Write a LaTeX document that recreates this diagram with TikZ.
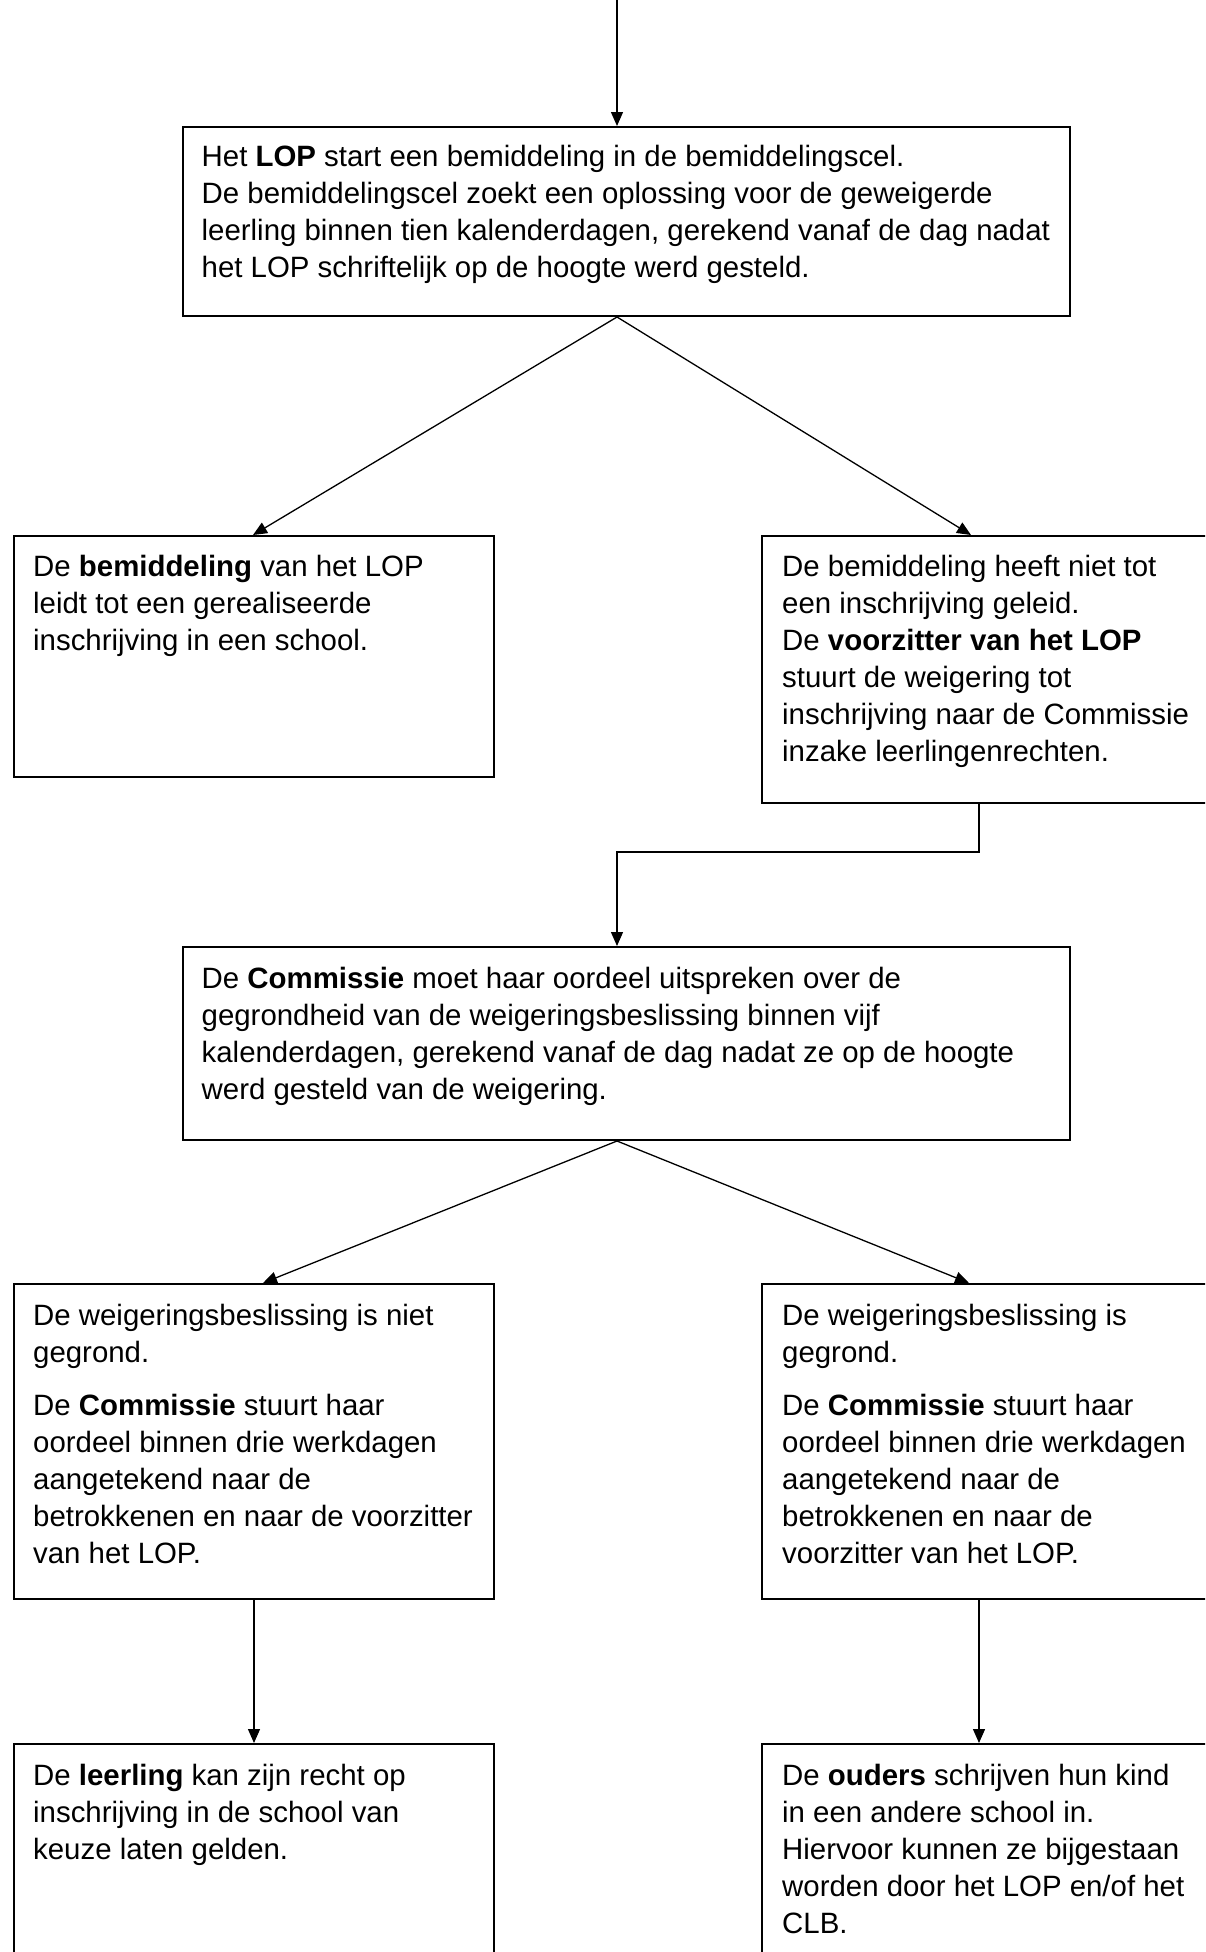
\documentclass[tikz,border=0pt]{standalone}
\usepackage{fontspec}
\setmainfont{Liberation Sans}
\usetikzlibrary{arrows.meta,calc}
\tikzset{
  box/.style={draw=black, line width=2pt, rectangle, inner sep=0pt, anchor=north west},
  txt/.style={inner sep=0pt, anchor=base west, align=left, font=\fontsize{29.4}{37}\selectfont},
  conn/.style={draw=black, line width=1.3pt},
  arr/.style={conn, -{Triangle[length=14pt,width=12pt]}}
}
\begin{document}
\begin{tikzpicture}[x=1pt,y=-1pt]
\useasboundingbox (0,0) rectangle (1205,1952);
\clip (0,0) rectangle (1205,1952);
% boxes
\node[box, minimum width=887pt, minimum height=189pt] (b1) at (182,126) {};
\node[box, minimum width=480pt, minimum height=241pt] (b2) at (13,535) {};
\node[box, minimum width=454pt, minimum height=267pt] (b3) at (761,535) {};
\node[box, minimum width=887pt, minimum height=193pt] (b4) at (182,946) {};
\node[box, minimum width=480pt, minimum height=315pt] (b5) at (13,1283) {};
\node[box, minimum width=454pt, minimum height=315pt] (b6) at (761,1283) {};
\node[box, minimum width=480pt, minimum height=227pt] (b7) at (13,1743) {};
\node[box, minimum width=454pt, minimum height=227pt] (b8) at (761,1743) {};
% texts (anchored at the baseline of their last line)
\node[txt] (t1) at (201.5,277) {Het \textbf{LOP} start een bemiddeling in de bemiddelingscel.\\
De bemiddelingscel zoekt een oplossing voor de geweigerde\\
leerling binnen tien kalenderdagen, gerekend vanaf de dag nadat\\
het LOP schriftelijk op de hoogte werd gesteld.};
\node[txt] (t2) at (33,650) {De \textbf{bemiddeling} van het LOP\\
leidt tot een gerealiseerde\\
inschrijving in een school.};
\node[txt] (t3) at (782,761) {De bemiddeling heeft niet tot\\
een inschrijving geleid.\\
De \textbf{voorzitter van het LOP}\\
stuurt de weigering tot\\
inschrijving naar de Commissie\\
inzake leerlingenrechten.};
\node[txt] (t4) at (201.5,1099) {De \textbf{Commissie} moet haar oordeel uitspreken over de\\
gegrondheid van de weigeringsbeslissing binnen vijf\\
kalenderdagen, gerekend vanaf de dag nadat ze op de hoogte\\
werd gesteld van de weigering.};
\node[txt] (t5) at (33,1563) {De weigeringsbeslissing is niet\\
gegrond.\\[16pt]
De \textbf{Commissie} stuurt haar\\
oordeel binnen drie werkdagen\\
aangetekend naar de\\
betrokkenen en naar de voorzitter\\
van het LOP.};
\node[txt] (t6) at (782,1563) {De weigeringsbeslissing is\\
gegrond.\\[16pt]
De \textbf{Commissie} stuurt haar\\
oordeel binnen drie werkdagen\\
aangetekend naar de\\
betrokkenen en naar de\\
voorzitter van het LOP.};
\node[txt] (t7) at (33,1859) {De \textbf{leerling} kan zijn recht op\\
inschrijving in de school van\\
keuze laten gelden.};
\node[txt] (t8) at (782,1933) {De \textbf{ouders} schrijven hun kind\\
in een andere school in.\\
Hiervoor kunnen ze bijgestaan\\
worden door het LOP en/of het\\
CLB.};
% coordinates
\coordinate (top) at (617,0);
\coordinate (b1s) at (top |- b1.south);
\coordinate (b1n) at (top |- b1.north);
\coordinate (b2n) at ($(b2.north west)+(240,0)$);
\coordinate (b3n) at ($(b3.north west)+(210,0)$);
\coordinate (b3s) at ($(b3.south west)+(218,0)$);
\coordinate (bend) at ($(b3s)+(0,48)$);
\coordinate (b4n) at (top |- b4.north);
\coordinate (b4s) at (top |- b4.south);
\coordinate (b5n) at ($(b5.north west)+(250,0)$);
\coordinate (b6n) at ($(b6.north west)+(208,0)$);
\coordinate (b5s) at ($(b5.south west)+(241,0)$);
\coordinate (b6s) at ($(b6.south west)+(218,0)$);
\coordinate (b7n) at (b5s |- b7.north);
\coordinate (b8n) at (b6s |- b8.north);
% connectors
\draw[arr] (top) -- (b1n);
\draw[arr] (b1s) -- (b2n);
\draw[arr] (b1s) -- (b3n);
\draw[arr] (b3s) -- (bend) -- (bend -| b4n) -- (b4n);
\draw[arr] (b4s) -- (b5n);
\draw[arr] (b4s) -- (b6n);
\draw[arr] (b5s) -- (b7n);
\draw[arr] (b6s) -- (b8n);
\end{tikzpicture}
\end{document}
